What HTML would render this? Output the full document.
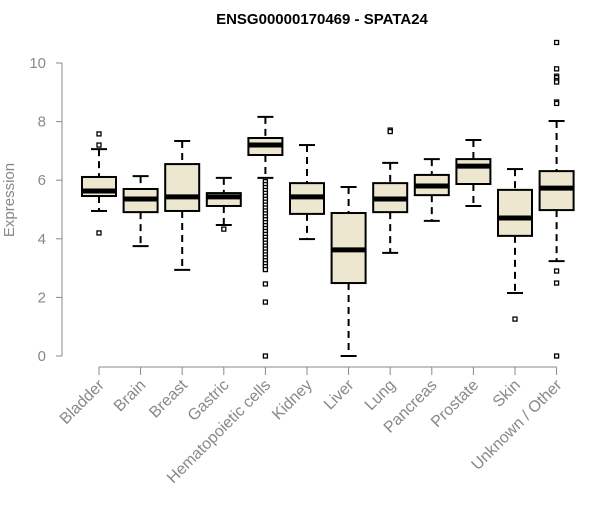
<!DOCTYPE html>
<html><head><meta charset="utf-8"><style>body{margin:0;background:#fff}svg text{font-family:"Liberation Sans",sans-serif}</style></head>
<body>
<svg id="c" width="600" height="500"></svg>
<script>
const categories=["Bladder","Brain","Breast","Gastric","Hematopoietic cells","Kidney","Liver","Lung","Pancreas","Prostate","Skin","Unknown / Other"];
const whiskerLow=[4.95,3.75,2.94,4.47,6.08,3.99,0,3.52,4.61,5.12,2.15,3.24];
const q1=[5.46,4.91,4.95,5.12,6.86,4.85,2.49,4.91,5.49,5.87,4.10,4.98];
const medians=[5.63,5.36,5.43,5.43,7.20,5.43,3.62,5.36,5.80,6.48,4.71,5.73];
const q3=[6.11,5.70,6.55,5.56,7.44,5.90,4.88,5.90,6.18,6.72,5.67,6.31];
const whiskerHigh=[7.06,6.14,7.34,6.08,8.16,7.20,5.77,6.59,6.72,7.37,6.38,8.02];
const outliers=[[7.58,7.2,4.2],[],[],[4.33],[5.95,5.85,5.75,5.65,5.55,5.45,5.35,5.25,5.15,5.05,4.95,4.85,4.75,4.65,4.55,4.45,4.35,4.25,4.15,4.05,3.95,3.85,3.75,3.65,3.55,3.45,3.35,3.25,3.15,3.05,2.95,2.46,1.84,0],[],[],[7.71,7.66],[],[],[1.26],[10.7,9.8,9.55,9.5,9.4,9.35,8.67,8.62,2.9,2.49,0]];
const yTicks=[0,2,4,6,8,10];
const NS="http://www.w3.org/2000/svg",svg=document.getElementById("c");
const y=v=>356-v*29.3, x=i=>99+i*41.6;
function mk(t,a,p){const e=document.createElementNS(NS,t);for(const k in a)e.setAttribute(k,a[k]);(p||svg).appendChild(e);return e;}
let t=mk("text",{x:322,y:24,"text-anchor":"middle","font-size":15,"font-weight":"bold"});t.textContent="ENSG00000170469 - SPATA24";


t=mk("text",{x:14,y:200,"text-anchor":"middle","font-size":15,fill:"#888",transform:"rotate(-90 14 200)"});t.textContent="Expression";


let ax=mk("line",{x1:62,x2:62,y1:y(10),y2:y(0),stroke:"#888"});


yTicks.forEach(v=>{mk("line",{x1:56,x2:62,y1:y(v),y2:y(v),stroke:"#888"});
const l=mk("text",{x:46,y:y(v)+5,"text-anchor":"end","font-size":15,fill:"#888"});l.textContent=v;

});
ax=mk("line",{x1:x(0),x2:x(11),y1:367,y2:367,stroke:"#888"});


categories.forEach((c,i)=>{const cx=x(i),w=17;
mk("line",{x1:cx,x2:cx,y1:367,y2:375,stroke:"#888"});
const l=mk("text",{x:cx+6,y:386,"text-anchor":"end","font-size":16,fill:"#888",transform:`rotate(-45 ${cx+6} 386)`});l.textContent=c;


const g=mk("g",{});


mk("line",{x1:cx,x2:cx,y1:y(whiskerHigh[i]),y2:y(q3[i]),stroke:"#000","stroke-width":2,"stroke-dasharray":"7,5"},g);
mk("line",{x1:cx,x2:cx,y1:y(q1[i]),y2:y(whiskerLow[i]),stroke:"#000","stroke-width":2,"stroke-dasharray":"7,5"},g);
mk("line",{x1:cx-8,x2:cx+8,y1:y(whiskerHigh[i]),y2:y(whiskerHigh[i]),stroke:"#000","stroke-width":2},g);
mk("line",{x1:cx-8,x2:cx+8,y1:y(whiskerLow[i]),y2:y(whiskerLow[i]),stroke:"#000","stroke-width":2},g);
mk("rect",{x:cx-w,y:y(q3[i]),width:2*w,height:y(q1[i])-y(q3[i]),fill:"#ede7cf",stroke:"#000","stroke-width":2},g);
mk("line",{x1:cx-w,x2:cx+w,y1:y(medians[i]),y2:y(medians[i]),stroke:"#000","stroke-width":5},g);
outliers[i].forEach(v=>mk("rect",{x:cx-2,y:y(v)-2,width:4,height:4,fill:"#fff",stroke:"#000","stroke-width":1.3},g));
});
</script>
</body></html>
